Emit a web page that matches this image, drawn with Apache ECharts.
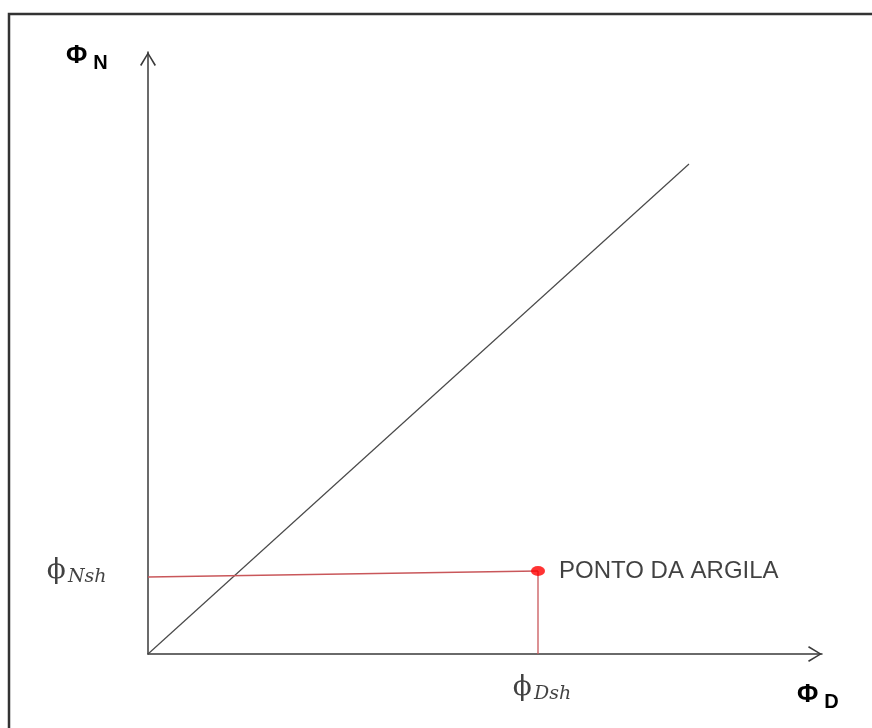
<!DOCTYPE html>
<html><head><meta charset="utf-8">
<script src="https://cdn.jsdelivr.net/npm/echarts@6/dist/echarts.min.js"></script>
<style>html,body{margin:0;padding:0;background:#fff}#c{width:872px;height:728px}</style>
</head><body><div id="c"></div>
<script>
// axis extents (arbitrary units)
const xRange = [0, 674];
const yRange = [0, 602];
// data
const diagonalLine = [[0, 0], [541, 490]];
const clayHorizontal = [[0, 77], [390, 83]];
const clayVertical = [[390, 83], [390, 0]];
const clayPoint = [[390, 83]];
const clayPointLabel = 'PONTO DA ARGILA';
const nshAnchor = [0, 77];
const dshAnchor = [390, 0];
// texts
const yAxisTitle = ['Φ', 'N'];
const xAxisTitle = ['Φ', 'D'];
const nshLabel = ['ϕ', 'Nsh'];
const dshLabel = ['ϕ', 'Dsh'];

const arrowPath = 'path://M9,0L9.02,0L9,0.02Z M9,14L17,27L15.6,27.8L9,16.6L2.4,27.8L1,27Z';
const axisCommon = {
  type: 'value',
  axisLine: { show: true, lineStyle: { color: '#3a3a3a', width: 1.5 }, symbol: ['none', arrowPath], symbolSize: [16, 27.8] },
  axisTick: { show: false }, axisLabel: { show: false }, splitLine: { show: false }
};
const serifRich = {
  p: { fontFamily: 'DejaVu Serif', fontSize: 28, color: '#111' },
  s: { fontFamily: 'DejaVu Serif', fontStyle: 'italic', fontSize: 19, color: '#111', verticalAlign: 'bottom', padding: [0, 0, -2, 2] }
};
const sansRich = {
  p: { fontFamily: 'Liberation Sans', fontWeight: 'bold', fontSize: 26, color: '#111' },
  s: { fontFamily: 'Liberation Sans', fontWeight: 'bold', fontSize: 20, color: '#1a1a2a', verticalAlign: 'bottom', padding: [0, 0, -4, 6] }
};
const chart = echarts.init(document.getElementById('c'));
chart.setOption({
  backgroundColor: '#fff',
  animation: false,
  grid: { left: 148, right: 50, top: 52, bottom: 74 },
  xAxis: Object.assign({ min: xRange[0], max: xRange[1] }, axisCommon),
  yAxis: Object.assign({ min: yRange[0], max: yRange[1] }, axisCommon),
  graphic: [
    { type: 'polyline', shape: { points: [[9, 728], [9, 14], [872, 14]] }, style: { stroke: '#333', lineWidth: 2.5, fill: null } },
    { type: 'text', left: 66, top: 43, style: { text: '{p|' + yAxisTitle[0] + '}{s|' + yAxisTitle[1] + '}', rich: sansRich } },
    { type: 'text', left: 797, top: 682, style: { text: '{p|' + xAxisTitle[0] + '}{s|' + xAxisTitle[1] + '}', rich: sansRich } }
  ],
  series: [
    { type: 'line', data: diagonalLine, symbol: 'none', lineStyle: { color: '#4a4a4a', width: 1.2 }, z: 3 },
    { type: 'line', data: clayHorizontal, symbol: 'none', lineStyle: { color: '#c9575a', width: 1.3 }, z: 4 },
    { type: 'line', data: clayVertical, symbol: 'none', lineStyle: { color: '#c9575a', width: 1.3 }, z: 4 },
    { type: 'scatter', data: clayPoint, symbol: 'circle', symbolSize: [14, 10], itemStyle: { color: '#ff0000' }, z: 5,
      label: { show: true, position: 'right', distance: 14, formatter: clayPointLabel, fontFamily: 'Liberation Sans', fontSize: 24, color: '#111' } },
    { type: 'scatter', symbolSize: 1, itemStyle: { color: 'rgba(0,0,0,0)' }, silent: true, z: 6,
      data: [
        { value: nshAnchor, label: { show: true, position: 'left', distance: 41, offset: [0, -6], formatter: '{p|' + nshLabel[0] + '}{s|' + nshLabel[1] + '}', rich: serifRich } },
        { value: dshAnchor, label: { show: true, position: 'bottom', distance: 19, offset: [4, 0], formatter: '{p|' + dshLabel[0] + '}{s|' + dshLabel[1] + '}', rich: serifRich } }
      ] }
  ]
});
</script></body></html>
